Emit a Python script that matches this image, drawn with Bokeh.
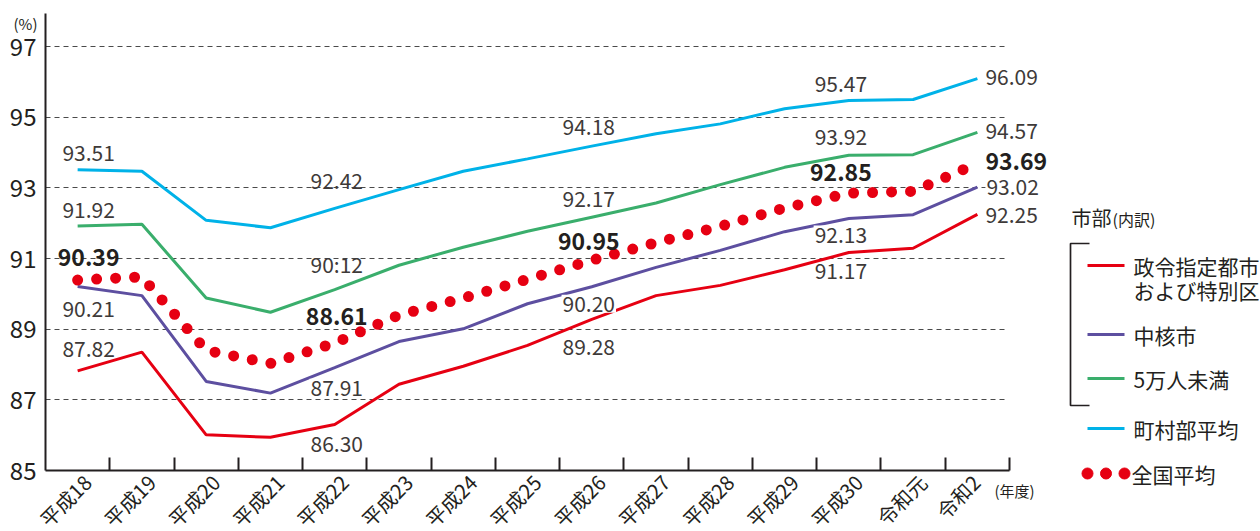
import math

from bokeh.core.properties import value
from bokeh.embed import file_html
from bokeh.layouts import row
from bokeh.models import ColumnDataSource, FixedTicker, Label, Range1d
from bokeh.plotting import figure
from bokeh.resources import INLINE

# 年度
years = ["平成18", "平成19", "平成20", "平成21", "平成22", "平成23", "平成24", "平成25",
         "平成26", "平成27", "平成28", "平成29", "平成30", "令和元", "令和2"]

# 市部(内訳)
seirei = [87.82, 88.35, 86.01, 85.94, 86.30, 87.44, 87.95, 88.54,
          89.28, 89.95, 90.24, 90.68, 91.17, 91.29, 92.25]
chukaku = [90.21, 89.95, 87.52, 87.19, 87.91, 88.65, 89.01, 89.72,
           90.20, 90.75, 91.23, 91.76, 92.13, 92.24, 93.02]
under_50k = [91.92, 91.97, 89.88, 89.48, 90.12, 90.81, 91.32, 91.77,
             92.17, 92.57, 93.09, 93.58, 93.92, 93.94, 94.57]
# 町村部平均
town = [93.51, 93.47, 92.08, 91.87, 92.42, 92.95, 93.47, 93.82,
        94.18, 94.53, 94.81, 95.24, 95.47, 95.50, 96.09]
# 全国平均
national = [90.39, 90.48, 88.40, 88.03, 88.61, 89.40, 89.88, 90.41,
            90.95, 91.45, 91.91, 92.43, 92.85, 92.90, 93.69]

y_ticks = [85, 87, 89, 91, 93, 95, 97]
labelled = [0, 4, 8, 12, 14]

FONT = "Noto Sans CJK JP"
INK = "#231f20"
LABEL_INK = "#3e3a39"
RED = "#e60012"
PURPLE = "#5d4fa0"
GREEN = "#3aae6c"
CYAN = "#00b2e8"

n = len(years)
xs = list(range(n))

# The frame fills the whole canvas; both axes sit at fixed data positions so that
# the unit labels and the right-hand value labels have room around the plot area.
p = figure(width=1060, height=531, output_backend="svg", toolbar_location=None,
           x_range=Range1d(-1.2002, 15.293), y_range=Range1d(83.274, 98.302),
           min_border=0)
p.outline_line_color = None
p.xgrid.visible = False

p.ygrid.ticker = FixedTicker(ticks=y_ticks[1:])
p.ygrid.grid_line_color = "#4a4a4a"
p.ygrid.grid_line_dash = "5 4"
p.ygrid.grid_line_width = 1
p.ygrid.cross_bounds = (-0.5, 14.45)

# y axis
p.yaxis.fixed_location = -0.5
p.yaxis.bounds = (85, 97.93)
p.yaxis.ticker = FixedTicker(ticks=y_ticks)
p.yaxis.major_tick_in = 0
p.yaxis.major_tick_out = 0
p.yaxis.minor_tick_line_color = None
p.yaxis.axis_line_color = INK
p.yaxis.axis_line_width = 2
p.yaxis.major_label_text_font = FONT
p.yaxis.major_label_text_font_size = "24px"
p.yaxis.major_label_text_color = INK
p.yaxis.major_label_standoff = 9

# x axis: rotated year names end a little right of each point (less for the
# short final name), tick marks sit between years
label_pos = [i + (0.15 if len(name) > 3 or name.endswith("元") else -0.02)
             for i, name in enumerate(years)]
p.xaxis.fixed_location = 85
p.xaxis.bounds = (-0.5, 14.5)
p.xaxis.ticker = FixedTicker(ticks=label_pos, minor_ticks=[i + 0.5 for i in xs])
p.xaxis.major_label_overrides = dict(zip(label_pos, years))
p.xaxis.major_tick_in = 0
p.xaxis.major_tick_out = 0
p.xaxis.minor_tick_in = 13
p.xaxis.minor_tick_out = 0
p.xaxis.minor_tick_line_color = INK
p.xaxis.minor_tick_line_width = 2
p.xaxis.axis_line_color = INK
p.xaxis.axis_line_width = 2
p.xaxis.major_label_orientation = math.pi / 4
p.xaxis.major_label_text_font = FONT
p.xaxis.major_label_text_font_size = "20px"
p.xaxis.major_label_text_color = INK
p.xaxis.major_label_standoff = 8

# series lines
for values, color in [(seirei, RED), (chukaku, PURPLE), (under_50k, GREEN), (town, CYAN)]:
    p.line(xs, values, line_color=color, line_width=3)

# 全国平均 as a dotted line
p.line(xs, national, line_color=RED, line_width=11, line_dash="0 19", line_cap="round")

# value labels: horizontal shift per labelled year, vertical shift per series
col_dx = [11, 2, -3, -8, 8]
series_labels = [
    (town, None, [-17, -27, -19, -17, -2], False, None),
    (under_50k, {4: "90:12"}, [-16.5, -25.5, -18.5, -18.5, -1.5], False, None),
    (national, None, [-23, -26.5, -19, -21, -1.5], True, None),
    (chukaku, None, [23, 20, 17, 16, 0], False, "white"),
    (seirei, None, [-22, 19, 28, 18, 1], False, None),
]
for values, overrides, dys, bold, bg in series_labels:
    overrides = overrides or {}
    src = ColumnDataSource(dict(
        x=[xs[i] for i in labelled],
        y=[values[i] for i in labelled],
        text=[overrides.get(i, f"{values[i]:.2f}") for i in labelled],
        dx=col_dx,
        dy=dys,
        align=["center"] * 4 + ["left"],
    ))
    kw = {}
    if bg:
        kw = dict(background_fill_color=bg, padding=1)
    p.text("x", "y", text="text", source=src, x_offset="dx", y_offset="dy",
           text_align="align", text_baseline="middle",
           text_font=value(FONT), text_font_size="23px" if bold else "21px",
           text_font_style="bold" if bold else "normal",
           text_color=INK if bold else LABEL_INK, **kw)

# unit captions (screen units from the bottom-left corner)
p.add_layout(Label(x=25, y=508, x_units="screen", y_units="screen", text="(%)",
                   text_align="center", text_baseline="middle", text_font=FONT,
                   text_font_size="15px", text_color=INK))
p.add_layout(Label(x=994, y=41, x_units="screen", y_units="screen", text="(年度)",
                   text_align="left", text_baseline="middle", text_font=FONT,
                   text_font_size="15px", text_color=INK))

# legend panel, drawn in page pixels
leg = figure(width=200, height=531, output_backend="svg", toolbar_location=None,
             x_range=Range1d(1060, 1260), y_range=Range1d(531, 0),
             x_axis_location=None, y_axis_location=None, min_border=0)
leg.outline_line_color = None
leg.grid.visible = False

leg.text([1071], [217], text=["市部"], text_font=value(FONT), text_font_size="20px",
         text_color=INK, text_baseline="middle")
leg.text([1112], [218], text=["(内訳)"], text_font=value(FONT), text_font_size="16px",
         text_color=INK, text_baseline="middle")
leg.line([1089, 1070, 1070, 1089], [243, 243, 405, 405], line_color=INK, line_width=1.7)

legend_rows = [
    (RED, 265, ["政令指定都市", "および特別区"]),
    (PURPLE, 334, ["中核市"]),
    (GREEN, 378, ["5万人未満"]),
    (CYAN, 428, ["町村部平均"]),
]
for color, ly, lines in legend_rows:
    leg.line([1087, 1124], [ly, ly], line_color=color, line_width=3)
    leg.text([1133] * len(lines), [ly + 24 * k for k in range(len(lines))], text=lines,
             text_font=value(FONT), text_font_size="21px", text_color=INK,
             text_baseline="middle")

leg.scatter([1087, 1105.5, 1124], [473, 473, 473], size=11, color=RED)
leg.text([1131], [473], text=["全国平均"], text_font=value(FONT), text_font_size="21px",
         text_color=INK, text_baseline="middle")

layout = row(p, leg)
open("out.html", "w").write(file_html(layout, INLINE))
